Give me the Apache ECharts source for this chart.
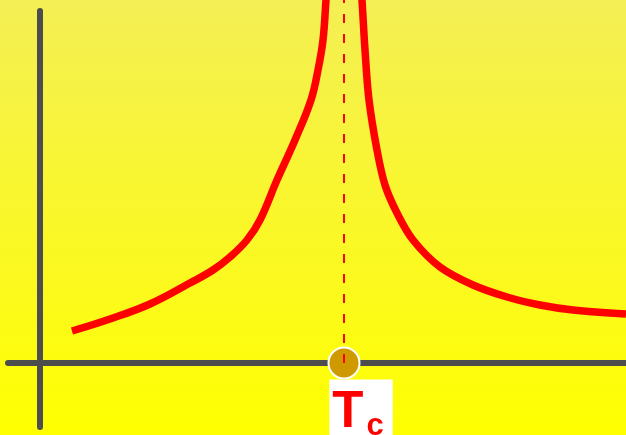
<!DOCTYPE html>
<html>
<head>
<meta charset="utf-8">
<script src="https://cdn.jsdelivr.net/npm/echarts@6/dist/echarts.min.js"></script>
<style>html,body{margin:0;padding:0;}#c{width:626px;height:435px;}</style>
</head>
<body>
<div id="c"></div>
<script>
// Temperature axis (arbitrary units), critical temperature Tc
const Tc = 304;
const belowTc = [[32,32],[70,44],[110,59],[150,80],[173,93],[190,106],[207,123],[220,143],[237,183],[255,223],[271,263],[278,293],[283,323],[286,363],[287,375]];
const aboveTc = [[321,375],[322,363],[325,313],[329,263],[337,213],[345,178],[357,150],[373,123],[400,96],[433,78],[467,66],[500,58],[533,53],[586,49]];
const tcLine = [[Tc,0],[Tc,375]];
const tcPoint = [[Tc,0]];

const chart = echarts.init(document.getElementById('c'));
chart.setOption({
  animation: false,
  backgroundColor: {type:'linear', x:0, y:0, x2:0, y2:1, colorStops:[{offset:0,color:'#f4ef55'},{offset:1,color:'#ffff00'}]},
  grid: {left: 8, right: 0, top: 11, bottom: 8},
  xAxis: {type:'value', min:-32, max:586, axisLine:{onZero:true, lineStyle:{color:'#4d4d4d', width:6}}, axisTick:{show:false}, axisLabel:{show:false}, splitLine:{show:false}},
  yAxis: {type:'value', min:-64, max:352, axisLine:{show:true, onZero:true, lineStyle:{color:'#4d4d4d', width:6}}, axisTick:{show:false}, axisLabel:{show:false}, splitLine:{show:false}},
  series: [
    {type:'line', data: belowTc, smooth:0.4, symbol:'none', clip:false, lineStyle:{color:'#ff0000', width:7.5}},
    {type:'line', data: aboveTc, smooth:0.35, symbol:'none', clip:false, lineStyle:{color:'#ff0000', width:7.5}},
    {type:'line', data: tcLine, symbol:'none', clip:false, lineStyle:{color:'#ff0000', width:2, type:[9,11]}},
    {type:'scatter', data: tcPoint, symbolSize:31, itemStyle:{color:'#cf9a00', borderColor:'#ffffff', borderWidth:2, opacity:1},
      label:{show:true, position:'bottom', distance:0, offset:[17,0], formatter:'{t|T}{c|c}', backgroundColor:'#ffffff', padding:[9,9,6,3],
        rich:{
          t:{fontFamily:'Liberation Sans', fontWeight:'bold', fontSize:51, color:'#ff0000', lineHeight:50, verticalAlign:'bottom'},
          c:{fontFamily:'Liberation Sans', fontWeight:'bold', fontSize:31, color:'#ff0000', lineHeight:50, verticalAlign:'bottom', padding:[0,0,-3,3]}
        }}}
  ]
});
</script>
</body>
</html>
